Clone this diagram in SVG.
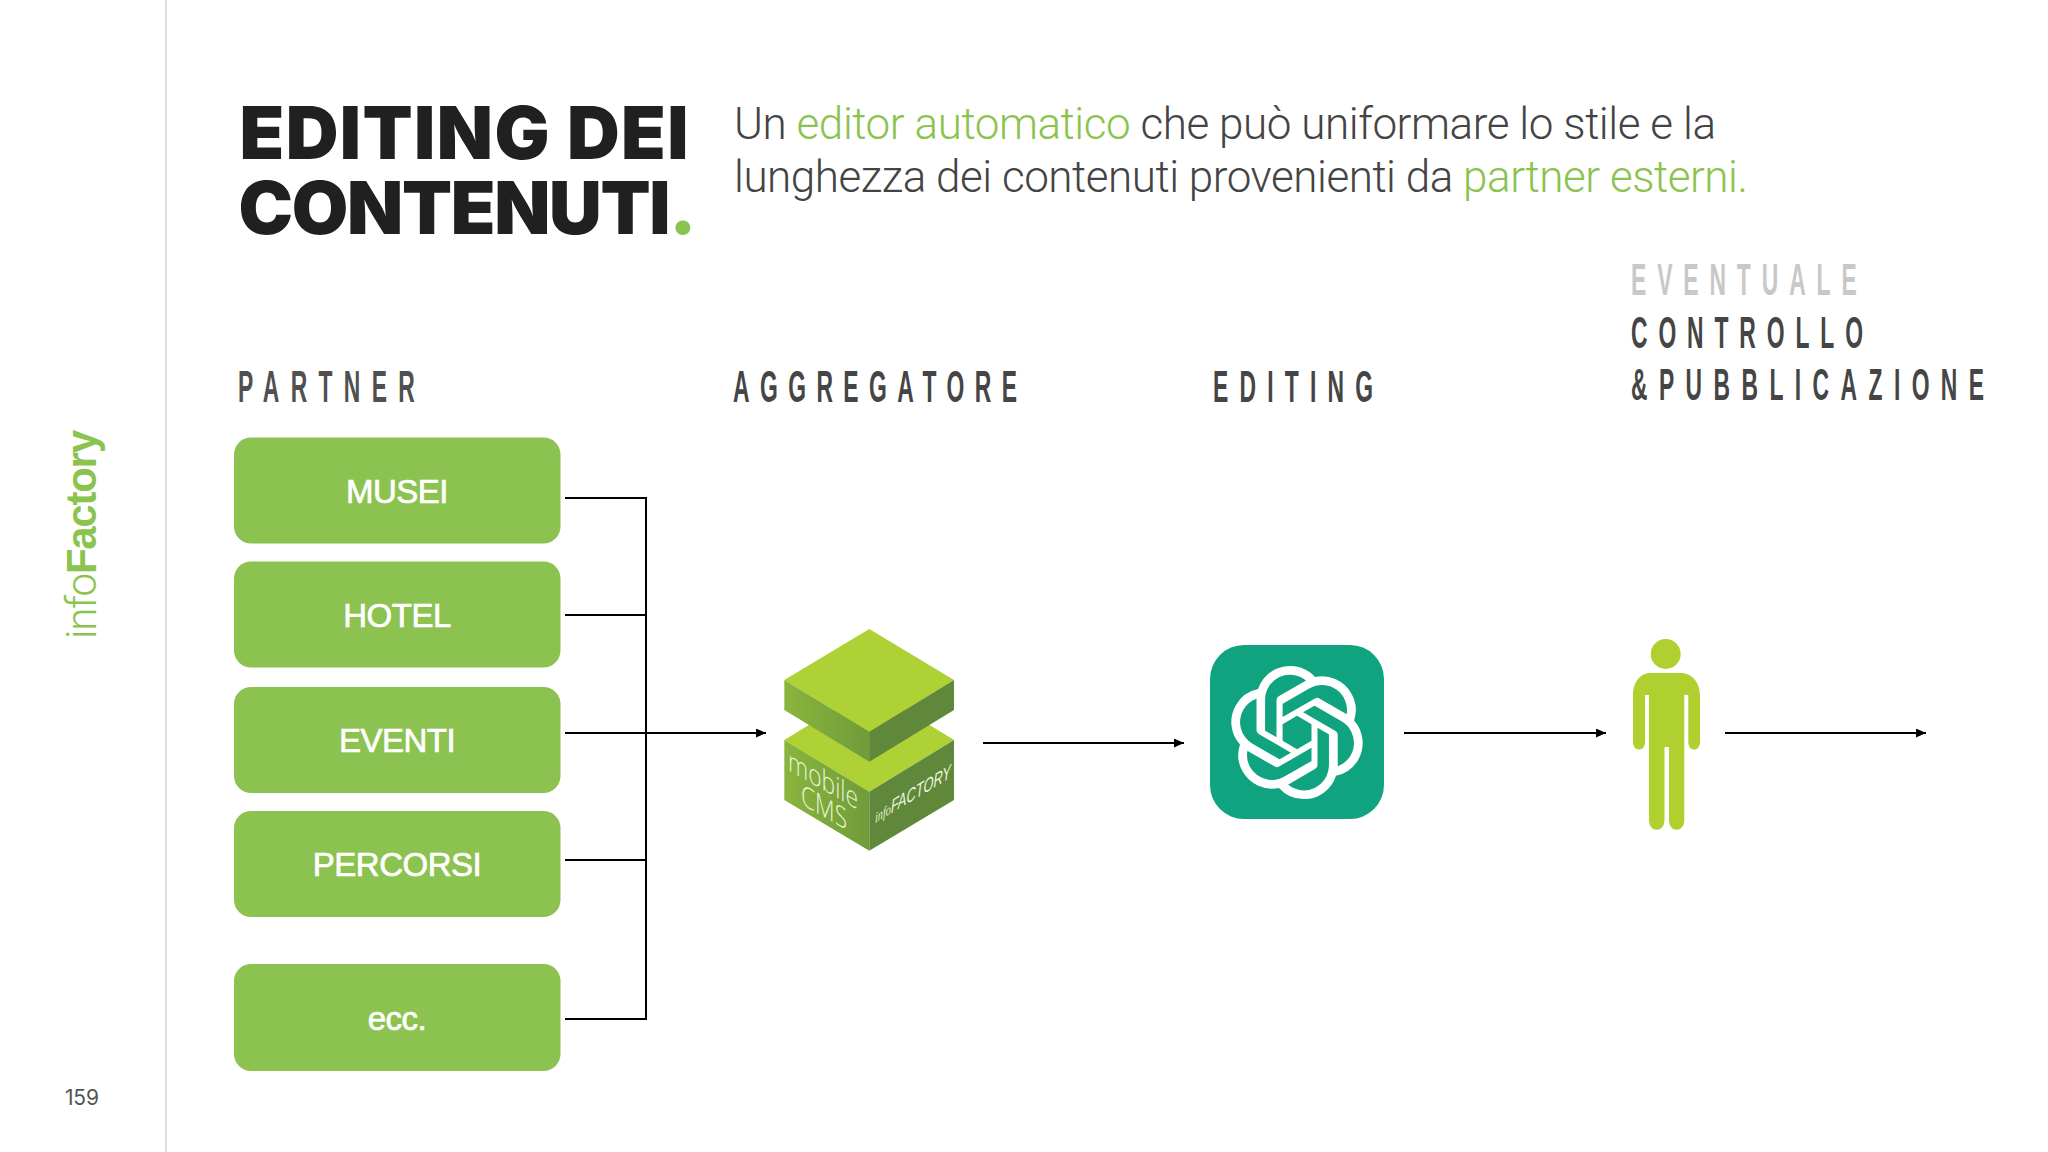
<svg xmlns="http://www.w3.org/2000/svg" width="2048" height="1152" viewBox="0 0 2048 1152">
<style>
.title{font-family:"Inter","Liberation Sans",sans-serif;font-weight:900;font-size:73px;fill:#202020}
.sub{font-family:"Roboto","Liberation Sans",sans-serif;font-weight:300;font-size:44px;fill:#444}
.g{fill:#8bc34f}
.hd{font-family:"Liberation Sans",sans-serif;font-weight:700;font-size:44px;fill:#454545}
.box{fill:#8cc250}
.lb{font-family:"Liberation Sans",sans-serif;font-weight:400;font-size:33px;fill:#fff;stroke:#fff;stroke-width:.7;text-anchor:middle;letter-spacing:-.5px}
.cn{fill:none;stroke:#000;stroke-width:2}
.ar{marker-end:url(#tip)}
.ct{fill:#eaf3d8;font-family:"Open Sans","Liberation Sans",sans-serif;font-weight:300}
</style>
<defs>
<marker id="tip" markerUnits="userSpaceOnUse" markerWidth="11" markerHeight="10" refX="10" refY="4.5" orient="auto"><path d="M0 0L10 4.5L0 9Z" fill="#000"/></marker>
<linearGradient id="lf" x1="0" y1="0" x2="1" y2="0"><stop offset="0" stop-color="#8ab53d"/><stop offset="1" stop-color="#6f9c3a"/></linearGradient>
</defs>
<rect width="2048" height="1152" fill="#fff"/>
<g id="sidebar">
<line x1="166" y1="0" x2="166" y2="1152" stroke="#d4d4d4" stroke-width="1.500"/>
<text transform="translate(96,639) rotate(-90)" font-size="42" fill="#8bc34f" textLength="209"><tspan font-family="Roboto,sans-serif" font-weight="300">info</tspan><tspan font-family="Liberation Sans,sans-serif" font-weight="700">Factory</tspan></text>
<text x="65" y="1105" font-family="Inter,sans-serif" font-size="21" fill="#555" textLength="34">159</text>
</g>
<g id="heading">
<text class="title" x="239.500" y="159" textLength="449">EDITING DEI</text>
<text class="title" x="238.500" y="234" textLength="458">CONTENUTI<tspan class="g">.</tspan></text>
<text class="sub" x="734" y="139" textLength="982">Un <tspan class="g">editor automatico</tspan> che può uniformare lo stile e la</text>
<text class="sub" x="734" y="192" textLength="1014">lunghezza dei contenuti provenienti da <tspan class="g">partner esterni.</tspan></text>
</g>
<g id="column-headers">
<text class="hd" transform="translate(238,402) scale(.52,1)" textLength="340" style="fill:#505050">PARTNER</text>
<text class="hd" transform="translate(733,402) scale(.52,1)" textLength="546">AGGREGATORE</text>
<text class="hd" transform="translate(1213,402) scale(.52,1)" textLength="308">EDITING</text>
<text class="hd" transform="translate(1631,295) scale(.52,1)" textLength="434" style="fill:#c8c8c8">EVENTUALE</text>
<text class="hd" transform="translate(1631,347.500) scale(.52,1)" textLength="446">CONTROLLO</text>
<text class="hd" transform="translate(1631,399.500) scale(.52,1)" textLength="679">&amp;PUBBLICAZIONE</text>
</g>
<g id="connectors">
<path class="cn" d="M565 498H646V1019H565"/>
<path class="cn" d="M565 615H646M565 860H646"/>
<path class="cn ar" d="M565 733H766"/>
<path class="cn ar" d="M983 743H1184"/>
<path class="cn ar" d="M1404 733H1606"/>
<path class="cn ar" d="M1725 733H1926"/>
</g>
<g id="node-musei"><rect class="box" x="234" y="437.500" width="326.500" height="106" rx="17"/><text class="lb" x="397" y="503">MUSEI</text></g>
<g id="node-hotel"><rect class="box" x="234" y="561.500" width="326.500" height="106" rx="17"/><text class="lb" x="397" y="627">HOTEL</text></g>
<g id="node-eventi"><rect class="box" x="234" y="687" width="326.500" height="106" rx="17"/><text class="lb" x="397" y="752">EVENTI</text></g>
<g id="node-percorsi"><rect class="box" x="234" y="811" width="326.500" height="106" rx="17"/><text class="lb" x="397" y="876">PERCORSI</text></g>
<g id="node-ecc"><rect class="box" x="234" y="964" width="326.500" height="107" rx="17"/><text class="lb" x="397" y="1030">ecc.</text></g>
<g id="node-cms">
<path d="M869.300 688L954 740L869.300 791.700L784.300 740Z" fill="#aed136"/>
<path d="M784.300 740L869.300 791.700V850.700L784.300 800Z" fill="url(#lf)"/>
<path d="M869.300 791.700L954 740V800L869.300 850.700Z" fill="#5f883a"/>
<path d="M869.300 629L954 680L869.300 731.700L784.300 680Z" fill="#aed136"/>
<path d="M784.300 680L869.300 731.700V761.700L784.300 710Z" fill="url(#lf)"/>
<path d="M869.300 731.700L954 680V710L869.300 761.700Z" fill="#5f883a"/>
<text class="ct" transform="matrix(1,.57,0,1,788,770)" font-size="29" textLength="70" lengthAdjust="spacingAndGlyphs">mobile</text>
<text class="ct" transform="matrix(1,.57,0,1,801,804)" font-size="29" textLength="46" lengthAdjust="spacingAndGlyphs">CMS</text>
<text transform="matrix(1,-.6,0,1,875,823)" font-size="19" fill="#eef5df" font-style="italic" textLength="76" lengthAdjust="spacingAndGlyphs"><tspan font-family="Liberation Serif,serif" font-size="15">info</tspan><tspan font-family="Liberation Sans,sans-serif">FACTORY</tspan></text>
</g>
<g id="node-editing">
<rect x="1210" y="645" width="174" height="174" rx="34" fill="#10a37f"/>
<path transform="translate(1230.400,665.900) scale(5.550)" fill="#fff" d="M22.2819 9.8211a5.9847 5.9847 0 0 0-.5157-4.9108 6.0462 6.0462 0 0 0-6.5098-2.9A6.0651 6.0651 0 0 0 4.9807 4.1818a5.9847 5.9847 0 0 0-3.9977 2.9 6.0462 6.0462 0 0 0 .7427 7.0966 5.98 5.98 0 0 0 .511 4.9107 6.051 6.051 0 0 0 6.5146 2.9001A5.9847 5.9847 0 0 0 13.2599 24a6.0557 6.0557 0 0 0 5.7718-4.2058 5.9894 5.9894 0 0 0 3.9977-2.9001 6.0557 6.0557 0 0 0-.7475-7.0729zm-9.022 12.6081a4.4755 4.4755 0 0 1-2.8764-1.0408l.1419-.0804 4.7783-2.7582a.7948.7948 0 0 0 .3927-.6813v-6.7369l2.02 1.1686a.071.071 0 0 1 .038.052v5.5826a4.504 4.504 0 0 1-4.4945 4.4944zm-9.6607-4.1254a4.4708 4.4708 0 0 1-.5346-3.0137l.142.0852 4.783 2.7582a.7712.7712 0 0 0 .7806 0l5.8428-3.3685v2.3324a.0804.0804 0 0 1-.0332.0615L9.74 19.9502a4.4992 4.4992 0 0 1-6.1408-1.6464zM2.3408 7.8956a4.485 4.485 0 0 1 2.3655-1.9728V11.6a.7664.7664 0 0 0 .3879.6765l5.8144 3.3543-2.0201 1.1685a.0757.0757 0 0 1-.071 0l-4.8303-2.7865A4.504 4.504 0 0 1 2.3408 7.872zm16.5963 3.8558L13.1038 8.364 15.1192 7.2a.0757.0757 0 0 1 .071 0l4.8303 2.7913a4.4944 4.4944 0 0 1-.6765 8.1042v-5.6772a.79.79 0 0 0-.407-.667zm2.0107-3.0231l-.142-.0852-4.7735-2.7818a.7759.7759 0 0 0-.7854 0L9.409 9.2297V6.8974a.0662.0662 0 0 1 .0284-.0615l4.8303-2.7866a4.4992 4.4992 0 0 1 6.6802 4.66zM8.3065 12.863l-2.02-1.1638a.0804.0804 0 0 1-.038-.0567V6.0742a4.4992 4.4992 0 0 1 7.3757-3.4537l-.142.0805L8.704 5.459a.7948.7948 0 0 0-.3927.6813zm1.0976-2.3654l2.602-1.4998 2.6069 1.4998v2.9994l-2.5974 1.4997-2.6067-1.4997Z"/>
</g>
<g id="node-person" fill="#afd02f">
<circle cx="1665.700" cy="654" r="15"/>
<path d="M1650 673H1681C1692 673 1700 683 1700 695V742C1700 752 1688.300 752 1688.300 742V695H1684.300V820C1684.300 833 1669 833 1669 820V747H1664.500V820C1664.500 833 1649 833 1649 820V695H1645V742C1645 752 1633 752 1633 742V695C1633 683 1640 673 1650 673Z"/>
</g>
</svg>
